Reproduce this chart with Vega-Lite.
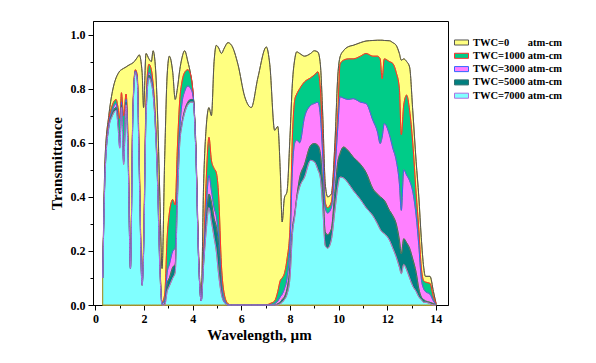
{
  "$schema": "https://vega.github.io/schema/vega-lite/v6.json",
  "width": 355,
  "height": 284,
  "autosize": {"type": "none"},
  "padding": {"left": 93, "top": 21, "right": 148, "bottom": 58},
  "background": "white",
  "config": {
    "view": {"stroke": "black", "strokeWidth": 1},
    "font": "Liberation Serif",
    "axis": {
      "labelFont": "Liberation Serif", "labelFontWeight": "bold", "labelFontSize": 12, "labelColor": "black",
      "titleFont": "Liberation Serif", "titleFontWeight": "bold", "titleFontSize": 15, "titleColor": "black",
      "domainColor": "black", "tickColor": "black", "grid": false, "domainWidth": 1, "tickWidth": 1
    }
  },
  "data": {
    "values": [
      {"w":0.30,"TWC=0":0.10,"TWC=1000":0.10,"TWC=3000":0.10,"TWC=5000":0.10,"TWC=7000":0.10},
      {"w":0.40,"TWC=0":0.55,"TWC=1000":0.51,"TWC=3000":0.50,"TWC=5000":0.50,"TWC=7000":0.49},
      {"w":0.55,"TWC=0":0.70,"TWC=1000":0.68,"TWC=3000":0.665,"TWC=5000":0.66,"TWC=7000":0.655},
      {"w":0.70,"TWC=0":0.79,"TWC=1000":0.74,"TWC=3000":0.72,"TWC=5000":0.71,"TWC=7000":0.70},
      {"w":0.85,"TWC=0":0.84,"TWC=1000":0.76,"TWC=3000":0.745,"TWC=5000":0.73,"TWC=7000":0.72},
      {"w":0.93,"TWC=0":0.855,"TWC=1000":0.73,"TWC=3000":0.68,"TWC=5000":0.68,"TWC=7000":0.66},
      {"w":1.00,"TWC=0":0.865,"TWC=1000":0.69,"TWC=3000":0.585,"TWC=5000":0.60,"TWC=7000":0.58},
      {"w":1.07,"TWC=0":0.87,"TWC=1000":0.785,"TWC=3000":0.75,"TWC=5000":0.74,"TWC=7000":0.73},
      {"w":1.16,"TWC=0":0.875,"TWC=1000":0.70,"TWC=3000":0.53,"TWC=5000":0.53,"TWC=7000":0.52},
      {"w":1.26,"TWC=0":0.88,"TWC=1000":0.78,"TWC=3000":0.76,"TWC=5000":0.75,"TWC=7000":0.74},
      {"w":1.34,"TWC=0":0.885,"TWC=1000":0.62,"TWC=3000":0.58,"TWC=5000":0.57,"TWC=7000":0.56},
      {"w":1.44,"TWC=0":0.89,"TWC=1000":0.14,"TWC=3000":0.135,"TWC=5000":0.135,"TWC=7000":0.135},
      {"w":1.54,"TWC=0":0.895,"TWC=1000":0.72,"TWC=3000":0.71,"TWC=5000":0.70,"TWC=7000":0.70},
      {"w":1.64,"TWC=0":0.905,"TWC=1000":0.87,"TWC=3000":0.865,"TWC=5000":0.86,"TWC=7000":0.86},
      {"w":1.72,"TWC=0":0.915,"TWC=1000":0.85,"TWC=3000":0.84,"TWC=5000":0.835,"TWC=7000":0.83},
      {"w":1.80,"TWC=0":0.925,"TWC=1000":0.55,"TWC=3000":0.52,"TWC=5000":0.51,"TWC=7000":0.50},
      {"w":1.92,"TWC=0":0.86,"TWC=1000":0.08,"TWC=3000":0.075,"TWC=5000":0.073,"TWC=7000":0.073},
      {"w":1.98,"TWC=0":0.73,"TWC=1000":0.22,"TWC=3000":0.20,"TWC=5000":0.19,"TWC=7000":0.19},
      {"w":2.08,"TWC=0":0.93,"TWC=1000":0.75,"TWC=3000":0.72,"TWC=5000":0.70,"TWC=7000":0.69},
      {"w":2.20,"TWC=0":0.91,"TWC=1000":0.89,"TWC=3000":0.86,"TWC=5000":0.85,"TWC=7000":0.84},
      {"w":2.30,"TWC=0":0.90,"TWC=1000":0.87,"TWC=3000":0.84,"TWC=5000":0.83,"TWC=7000":0.82},
      {"w":2.37,"TWC=0":0.94,"TWC=1000":0.82,"TWC=3000":0.80,"TWC=5000":0.79,"TWC=7000":0.78},
      {"w":2.45,"TWC=0":0.90,"TWC=1000":0.72,"TWC=3000":0.70,"TWC=5000":0.69,"TWC=7000":0.68},
      {"w":2.55,"TWC=0":0.72,"TWC=1000":0.50,"TWC=3000":0.48,"TWC=5000":0.47,"TWC=7000":0.46},
      {"w":2.65,"TWC=0":0.40,"TWC=1000":0.16,"TWC=3000":0.15,"TWC=5000":0.14,"TWC=7000":0.13},
      {"w":2.74,"TWC=0":0.135,"TWC=1000":0.01,"TWC=3000":0.005,"TWC=5000":0.0,"TWC=7000":0.0},
      {"w":2.85,"TWC=0":0.55,"TWC=1000":0.04,"TWC=3000":0.015,"TWC=5000":0.005,"TWC=7000":0.0},
      {"w":2.95,"TWC=0":0.85,"TWC=1000":0.25,"TWC=3000":0.12,"TWC=5000":0.08,"TWC=7000":0.05},
      {"w":3.04,"TWC=0":0.92,"TWC=1000":0.34,"TWC=3000":0.15,"TWC=5000":0.10,"TWC=7000":0.07},
      {"w":3.18,"TWC=0":0.86,"TWC=1000":0.39,"TWC=3000":0.20,"TWC=5000":0.14,"TWC=7000":0.10},
      {"w":3.28,"TWC=0":0.76,"TWC=1000":0.37,"TWC=3000":0.21,"TWC=5000":0.15,"TWC=7000":0.12},
      {"w":3.37,"TWC=0":0.80,"TWC=1000":0.58,"TWC=3000":0.45,"TWC=5000":0.40,"TWC=7000":0.38},
      {"w":3.47,"TWC=0":0.87,"TWC=1000":0.76,"TWC=3000":0.65,"TWC=5000":0.62,"TWC=7000":0.60},
      {"w":3.55,"TWC=0":0.91,"TWC=1000":0.82,"TWC=3000":0.74,"TWC=5000":0.67,"TWC=7000":0.66},
      {"w":3.67,"TWC=0":0.94,"TWC=1000":0.86,"TWC=3000":0.79,"TWC=5000":0.72,"TWC=7000":0.71},
      {"w":3.80,"TWC=0":0.90,"TWC=1000":0.87,"TWC=3000":0.81,"TWC=5000":0.75,"TWC=7000":0.74},
      {"w":3.92,"TWC=0":0.85,"TWC=1000":0.85,"TWC=3000":0.80,"TWC=5000":0.76,"TWC=7000":0.75},
      {"w":4.02,"TWC=0":0.78,"TWC=1000":0.775,"TWC=3000":0.77,"TWC=5000":0.76,"TWC=7000":0.75},
      {"w":4.12,"TWC=0":0.62,"TWC=1000":0.60,"TWC=3000":0.60,"TWC=5000":0.59,"TWC=7000":0.59},
      {"w":4.25,"TWC=0":0.18,"TWC=1000":0.15,"TWC=3000":0.15,"TWC=5000":0.15,"TWC=7000":0.15},
      {"w":4.35,"TWC=0":0.025,"TWC=1000":0.015,"TWC=3000":0.015,"TWC=5000":0.015,"TWC=7000":0.015},
      {"w":4.45,"TWC=0":0.45,"TWC=1000":0.20,"TWC=3000":0.17,"TWC=5000":0.16,"TWC=7000":0.15},
      {"w":4.55,"TWC=0":0.65,"TWC=1000":0.45,"TWC=3000":0.35,"TWC=5000":0.30,"TWC=7000":0.27},
      {"w":4.67,"TWC=0":0.73,"TWC=1000":0.62,"TWC=3000":0.48,"TWC=5000":0.41,"TWC=7000":0.36},
      {"w":4.77,"TWC=0":0.70,"TWC=1000":0.535,"TWC=3000":0.424,"TWC=5000":0.38,"TWC=7000":0.31},
      {"w":4.88,"TWC=0":0.90,"TWC=1000":0.505,"TWC=3000":0.36,"TWC=5000":0.32,"TWC=7000":0.25},
      {"w":4.97,"TWC=0":0.96,"TWC=1000":0.49,"TWC=3000":0.33,"TWC=5000":0.29,"TWC=7000":0.20},
      {"w":5.07,"TWC=0":0.95,"TWC=1000":0.40,"TWC=3000":0.25,"TWC=5000":0.22,"TWC=7000":0.11},
      {"w":5.18,"TWC=0":0.93,"TWC=1000":0.15,"TWC=3000":0.08,"TWC=5000":0.06,"TWC=7000":0.04},
      {"w":5.30,"TWC=0":0.95,"TWC=1000":0.04,"TWC=3000":0.02,"TWC=5000":0.01,"TWC=7000":0.01},
      {"w":5.45,"TWC=0":0.97,"TWC=1000":0.005,"TWC=3000":0.0,"TWC=5000":0.0,"TWC=7000":0.0},
      {"w":5.60,"TWC=0":0.96,"TWC=1000":0.0,"TWC=3000":0.0,"TWC=5000":0.0,"TWC=7000":0.0},
      {"w":5.86,"TWC=0":0.89,"TWC=1000":0.0,"TWC=3000":0.0,"TWC=5000":0.0,"TWC=7000":0.0},
      {"w":6.14,"TWC=0":0.77,"TWC=1000":0.0,"TWC=3000":0.0,"TWC=5000":0.0,"TWC=7000":0.0},
      {"w":6.41,"TWC=0":0.73,"TWC=1000":0.0,"TWC=3000":0.0,"TWC=5000":0.0,"TWC=7000":0.0},
      {"w":6.68,"TWC=0":0.84,"TWC=1000":0.0,"TWC=3000":0.0,"TWC=5000":0.0,"TWC=7000":0.0},
      {"w":7.03,"TWC=0":0.954,"TWC=1000":0.0,"TWC=3000":0.0,"TWC=5000":0.0,"TWC=7000":0.0},
      {"w":7.17,"TWC=0":0.89,"TWC=1000":0.005,"TWC=3000":0.0,"TWC=5000":0.0,"TWC=7000":0.0},
      {"w":7.37,"TWC=0":0.646,"TWC=1000":0.015,"TWC=3000":0.005,"TWC=5000":0.0,"TWC=7000":0.0},
      {"w":7.50,"TWC=0":0.66,"TWC=1000":0.05,"TWC=3000":0.015,"TWC=5000":0.005,"TWC=7000":0.0},
      {"w":7.60,"TWC=0":0.50,"TWC=1000":0.09,"TWC=3000":0.03,"TWC=5000":0.01,"TWC=7000":0.005},
      {"w":7.68,"TWC=0":0.307,"TWC=1000":0.10,"TWC=3000":0.04,"TWC=5000":0.02,"TWC=7000":0.01},
      {"w":7.77,"TWC=0":0.395,"TWC=1000":0.116,"TWC=3000":0.06,"TWC=5000":0.03,"TWC=7000":0.02},
      {"w":7.88,"TWC=0":0.42,"TWC=1000":0.17,"TWC=3000":0.10,"TWC=5000":0.06,"TWC=7000":0.04},
      {"w":8.00,"TWC=0":0.62,"TWC=1000":0.28,"TWC=3000":0.22,"TWC=5000":0.14,"TWC=7000":0.10},
      {"w":8.10,"TWC=0":0.82,"TWC=1000":0.62,"TWC=3000":0.50,"TWC=5000":0.28,"TWC=7000":0.26},
      {"w":8.20,"TWC=0":0.91,"TWC=1000":0.76,"TWC=3000":0.60,"TWC=5000":0.34,"TWC=7000":0.33},
      {"w":8.28,"TWC=0":0.936,"TWC=1000":0.78,"TWC=3000":0.61,"TWC=5000":0.40,"TWC=7000":0.39},
      {"w":8.40,"TWC=0":0.93,"TWC=1000":0.80,"TWC=3000":0.60,"TWC=5000":0.47,"TWC=7000":0.436},
      {"w":8.60,"TWC=0":0.92,"TWC=1000":0.825,"TWC=3000":0.695,"TWC=5000":0.52,"TWC=7000":0.473},
      {"w":8.85,"TWC=0":0.93,"TWC=1000":0.84,"TWC=3000":0.738,"TWC=5000":0.59,"TWC=7000":0.535},
      {"w":9.00,"TWC=0":0.94,"TWC=1000":0.85,"TWC=3000":0.745,"TWC=5000":0.597,"TWC=7000":0.53},
      {"w":9.15,"TWC=0":0.935,"TWC=1000":0.862,"TWC=3000":0.75,"TWC=5000":0.59,"TWC=7000":0.50},
      {"w":9.25,"TWC=0":0.89,"TWC=1000":0.80,"TWC=3000":0.70,"TWC=5000":0.56,"TWC=7000":0.47},
      {"w":9.35,"TWC=0":0.70,"TWC=1000":0.60,"TWC=3000":0.55,"TWC=5000":0.44,"TWC=7000":0.36},
      {"w":9.45,"TWC=0":0.45,"TWC=1000":0.38,"TWC=3000":0.36,"TWC=5000":0.27,"TWC=7000":0.22},
      {"w":9.55,"TWC=0":0.40,"TWC=1000":0.36,"TWC=3000":0.34,"TWC=5000":0.26,"TWC=7000":0.21},
      {"w":9.70,"TWC=0":0.41,"TWC=1000":0.38,"TWC=3000":0.36,"TWC=5000":0.28,"TWC=7000":0.24},
      {"w":9.85,"TWC=0":0.60,"TWC=1000":0.55,"TWC=3000":0.50,"TWC=5000":0.42,"TWC=7000":0.35},
      {"w":9.97,"TWC=0":0.85,"TWC=1000":0.71,"TWC=3000":0.66,"TWC=5000":0.53,"TWC=7000":0.44},
      {"w":10.06,"TWC=0":0.917,"TWC=1000":0.89,"TWC=3000":0.77,"TWC=5000":0.56,"TWC=7000":0.473},
      {"w":10.20,"TWC=0":0.94,"TWC=1000":0.905,"TWC=3000":0.765,"TWC=5000":0.584,"TWC=7000":0.47},
      {"w":10.40,"TWC=0":0.955,"TWC=1000":0.91,"TWC=3000":0.76,"TWC=5000":0.57,"TWC=7000":0.45},
      {"w":10.60,"TWC=0":0.96,"TWC=1000":0.91,"TWC=3000":0.763,"TWC=5000":0.547,"TWC=7000":0.424},
      {"w":10.90,"TWC=0":0.97,"TWC=1000":0.92,"TWC=3000":0.75,"TWC=5000":0.52,"TWC=7000":0.39},
      {"w":11.13,"TWC=0":0.976,"TWC=1000":0.93,"TWC=3000":0.745,"TWC=5000":0.49,"TWC=7000":0.36},
      {"w":11.41,"TWC=0":0.978,"TWC=1000":0.92,"TWC=3000":0.683,"TWC=5000":0.43,"TWC=7000":0.33},
      {"w":11.60,"TWC=0":0.979,"TWC=1000":0.92,"TWC=3000":0.64,"TWC=5000":0.41,"TWC=7000":0.30},
      {"w":11.71,"TWC=0":0.979,"TWC=1000":0.91,"TWC=3000":0.597,"TWC=5000":0.40,"TWC=7000":0.28},
      {"w":11.79,"TWC=0":0.979,"TWC=1000":0.837,"TWC=3000":0.62,"TWC=5000":0.395,"TWC=7000":0.27},
      {"w":11.88,"TWC=0":0.978,"TWC=1000":0.91,"TWC=3000":0.671,"TWC=5000":0.387,"TWC=7000":0.264},
      {"w":12.09,"TWC=0":0.977,"TWC=1000":0.90,"TWC=3000":0.63,"TWC=5000":0.35,"TWC=7000":0.24},
      {"w":12.23,"TWC=0":0.97,"TWC=1000":0.893,"TWC=3000":0.58,"TWC=5000":0.33,"TWC=7000":0.21},
      {"w":12.37,"TWC=0":0.96,"TWC=1000":0.86,"TWC=3000":0.535,"TWC=5000":0.30,"TWC=7000":0.178},
      {"w":12.50,"TWC=0":0.93,"TWC=1000":0.80,"TWC=3000":0.45,"TWC=5000":0.24,"TWC=7000":0.14},
      {"w":12.58,"TWC=0":0.905,"TWC=1000":0.63,"TWC=3000":0.35,"TWC=5000":0.19,"TWC=7000":0.116},
      {"w":12.68,"TWC=0":0.91,"TWC=1000":0.74,"TWC=3000":0.50,"TWC=5000":0.245,"TWC=7000":0.15},
      {"w":12.80,"TWC=0":0.90,"TWC=1000":0.776,"TWC=3000":0.48,"TWC=5000":0.23,"TWC=7000":0.13},
      {"w":12.92,"TWC=0":0.88,"TWC=1000":0.72,"TWC=3000":0.46,"TWC=5000":0.21,"TWC=7000":0.10},
      {"w":13.05,"TWC=0":0.72,"TWC=1000":0.60,"TWC=3000":0.42,"TWC=5000":0.17,"TWC=7000":0.07},
      {"w":13.19,"TWC=0":0.53,"TWC=1000":0.412,"TWC=3000":0.33,"TWC=5000":0.12,"TWC=7000":0.05},
      {"w":13.30,"TWC=0":0.40,"TWC=1000":0.28,"TWC=3000":0.22,"TWC=5000":0.06,"TWC=7000":0.03},
      {"w":13.40,"TWC=0":0.25,"TWC=1000":0.14,"TWC=3000":0.10,"TWC=5000":0.03,"TWC=7000":0.02},
      {"w":13.50,"TWC=0":0.14,"TWC=1000":0.09,"TWC=3000":0.06,"TWC=5000":0.02,"TWC=7000":0.01},
      {"w":13.57,"TWC=0":0.106,"TWC=1000":0.085,"TWC=3000":0.05,"TWC=5000":0.015,"TWC=7000":0.01},
      {"w":13.76,"TWC=0":0.106,"TWC=1000":0.08,"TWC=3000":0.04,"TWC=5000":0.01,"TWC=7000":0.005},
      {"w":13.90,"TWC=0":0.05,"TWC=1000":0.03,"TWC=3000":0.015,"TWC=5000":0.005,"TWC=7000":0.0},
      {"w":14.01,"TWC=0":0.005,"TWC=1000":0.005,"TWC=3000":0.0,"TWC=5000":0.0,"TWC=7000":0.0}
    ]
  },
  "layer": [
    {
      "transform": [
        {"fold": ["TWC=0", "TWC=1000", "TWC=3000", "TWC=5000", "TWC=7000"], "as": ["series", "T"]}
      ],
      "mark": {"type": "area", "interpolate": "monotone", "stroke": "#A8962E", "strokeWidth": 1},
      "encoding": {
        "x": {"field": "w", "type": "quantitative", "scale": {"domain": [-0.1, 14.5], "nice": false, "zero": false},
          "axis": {"orient": "bottom", "values": [0,2,4,6,8,10,12,14], "title": "Wavelength, \u00b5m", "tickSize": 5, "labelPadding": 3, "titlePadding": 3, "titleX": 166, "titleAlign": "center"}},
        "y": {"field": "T", "type": "quantitative", "stack": null, "scale": {"domain": [0, 1.05], "nice": false},
          "axis": {"orient": "left", "values": [0,0.2,0.4,0.6,0.8,1.0], "format": ".1f", "title": "Transmittance", "tickSize": 5, "labelPadding": 3, "titlePadding": 6}},
        "fill": {"field": "series", "type": "nominal",
          "scale": {"domain": ["TWC=0","TWC=1000","TWC=3000","TWC=5000","TWC=7000"], "range": ["#FFFF80","#00CC88","#FF80FF","#008080","#80FFFF"]},
          "legend": {"orient": "none", "legendX": 361, "legendY": 14, "title": null,
            "symbolType": "M-1,-0.36H1V0.36H-1Z", "symbolSize": 196, "symbolStrokeColor": "black", "symbolStrokeWidth": 1, "symbolOpacity": 1,
            "labelFont": "Liberation Serif", "labelFontWeight": "bold", "labelFontSize": 10.5, "labelColor": "black", "labelOffset": 4, "rowPadding": 0.3,
            "labelExpr": "datum.label == 'TWC=0' ? 'TWC=0\u00a0\u00a0\u00a0\u00a0\u00a0\u00a0\u00a0atm-cm' : datum.label + ' atm-cm'",
            "encode": {"symbols": {"update": {"stroke": {"value": "black"}, "strokeWidth": {"value": 1}}}}}},
        "opacity": {"value": 1}
      }
    },
    {
      "transform": [
        {"fold": ["TWC=0", "TWC=1000", "TWC=3000", "TWC=5000", "TWC=7000"], "as": ["lineSeries", "T"]}
      ],
      "mark": {"type": "line", "interpolate": "monotone", "strokeWidth": 1},
      "encoding": {
        "x": {"field": "w", "type": "quantitative",
          "axis": {"orient": "bottom", "values": [1,3,5,7,9,11,13], "labels": false, "domain": false, "title": null, "tickSize": 3}},
        "y": {"field": "T", "type": "quantitative",
          "axis": {"orient": "left", "values": [0.1,0.3,0.5,0.7,0.9], "labels": false, "domain": false, "title": null, "tickSize": 3}},
        "stroke": {"field": "lineSeries", "type": "nominal",
          "scale": {"domain": ["TWC=0","TWC=1000","TWC=3000","TWC=5000","TWC=7000"], "range": ["#555555","#FF3030","#3366FF","#337070","#B070E0"]},
          "legend": null}
      }
    }
  ],
  "resolve": {"axis": {"x": "independent", "y": "independent"}}
}
